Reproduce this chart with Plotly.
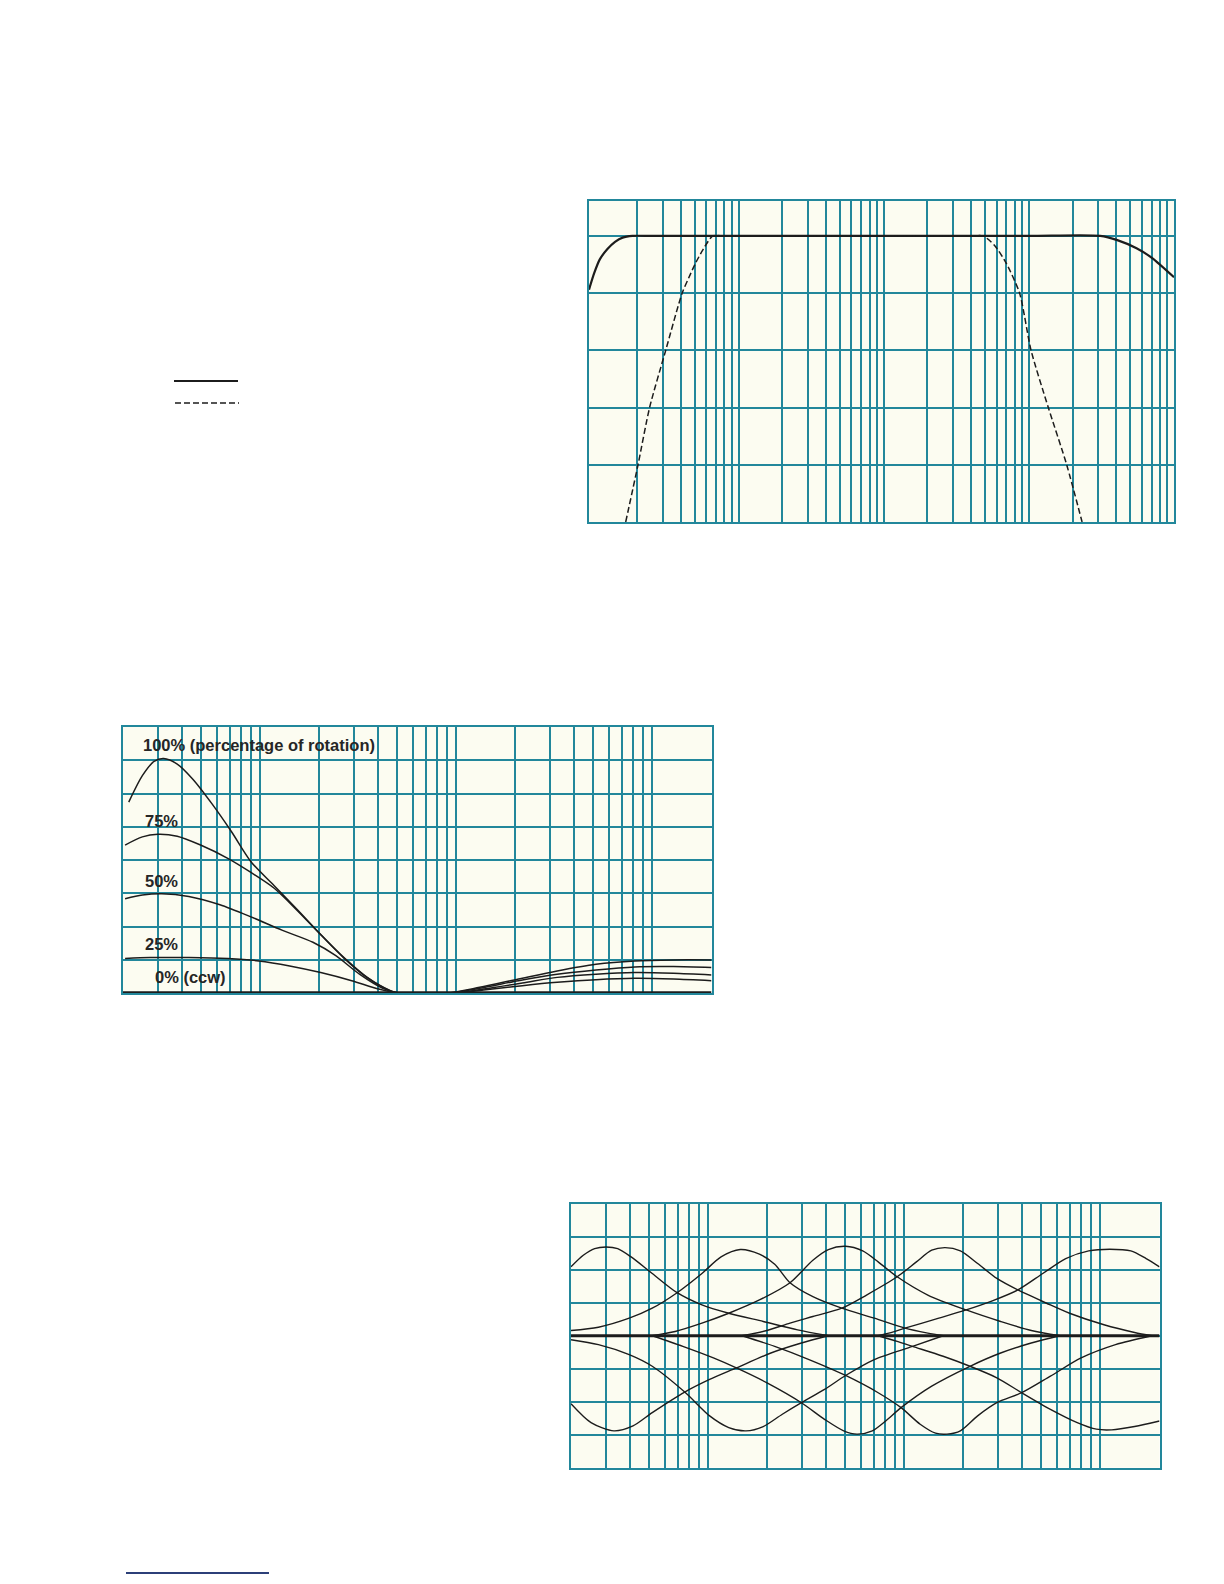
import math
import plotly.graph_objects as go

# ---------------- page geometry helpers (layout only) ----------------
W, H = 1208, 1568
OFF = 8  # default body margin of the html page


def px(x):
    return (x - OFF) / W


def py(y):
    return 1 - (y - OFF) / H


GRID = "#22879b"
INK = "#1c1c1c"
PLOT_BG = "#fcfcf1"
TEXT = "#262626"

# ---------------- chart 1 (top right): response, solid vs dashed ----------------
c1_solid_hz = [9.33, 10.1, 11.07, 12.5, 14.1, 15.9, 18.6, 25, 100, 1000, 10000, 31000, 40700, 55200, 70400, 100000]
c1_solid_db = [-9.4, -6.6, -4.1, -2.3, -1.05, -0.3, 0, 0, 0, 0, 0, 0, -0.74, -2.16, -3.83, -7.22]
c1_dash_hz = [16.7, 20.3, 24.4, 31.5, 40.9, 46.2, 50.6, 57.2, 66.6, 80, 200, 1000, 4000, 4842, 5807, 6978, 8630,
              10360, 13620, 18230, 23270]
c1_dash_db = [-50, -40, -30, -20, -10, -6.9, -4.75, -2.3, 0, 0, 0, 0, 0, 0, -1.67, -4.75, -10,
              -20, -30, -40, -50]
c1_grid_hz = [20, 30, 40, 50, 60, 70, 80, 90, 100, 200, 300, 400, 500, 600, 700, 800, 900,
              1000, 2000, 3000, 4000, 5000, 6000, 7000, 8000, 9000, 10000,
              20000, 30000, 40000, 50000, 60000, 70000, 80000, 90000]
c1_grid_db = [-50, -40, -30, -20, -10, 0]

# ---------------- chart 2 (middle left): percentage of rotation ----------------
c2_100_hz = [21.4, 25.1, 28.8, 32.2, 37.8, 45.4, 57.0, 71.5, 89.8, 118.0, 155.0, 203.7, 267.6, 351.6, 462.1, 506,
             914, 1316, 2075, 3268, 5152, 8125, 12800, 20000]
c2_100_v = [11.48, 13.07, 13.93, 14.11, 13.77, 12.86, 11.36, 9.7, 7.9, 6.45, 5.01, 3.52, 2.13, 0.94, 0.14, 0,
            0, 0.34, 0.84, 1.33, 1.73, 1.93, 1.99, 1.99]
c2_75_hz = [20.5, 25.1, 30.1, 37.8, 49.7, 68.4, 89.8, 118.0, 155.0, 203.7, 267.6, 351.6, 462.1, 506,
            914, 1316, 2075, 3268, 5152, 8125, 12800, 20000]
c2_75_v = [8.9, 9.39, 9.55, 9.43, 8.9, 8.1, 7.25, 6.3, 4.95, 3.5, 2.1, 0.92, 0.12, 0,
           0, 0.28, 0.74, 1.13, 1.39, 1.57, 1.59, 1.53]
c2_50_hz = [20.5, 25.1, 31.5, 43.3, 62.4, 89.8, 129.2, 185.9, 244.3, 321.0, 421.9, 506,
            957, 1378, 2171, 3268, 5152, 8125, 12800, 20000]
c2_50_v = [5.67, 5.89, 5.97, 5.81, 5.31, 4.58, 3.78, 3.05, 2.23, 1.13, 0.28, 0,
           0, 0.24, 0.60, 0.94, 1.13, 1.23, 1.19, 1.09]
c2_25_hz = [20.5, 27.5, 43.3, 68.4, 98.3, 141.5, 203.7, 293.1, 402.9, 506,
            1002, 1378, 2171, 3268, 5152, 8125, 12800, 20000]
c2_25_v = [2.07, 2.13, 2.13, 2.07, 1.93, 1.63, 1.23, 0.74, 0.24, 0,
           0, 0.18, 0.44, 0.64, 0.80, 0.88, 0.84, 0.74]
c2_0_hz = [20, 20000]
c2_0_v = [0, 0]
c2_grid_hz = [30, 40, 50, 60, 70, 80, 90, 100, 200, 300, 400, 500, 600, 700, 800, 900,
              1000, 2000, 3000, 4000, 5000, 6000, 7000, 8000, 9000, 10000]
c2_grid_v = [0, 2, 4, 6, 8, 10, 12, 14, 16]
c2_labels = ["100% (percentage of rotation)", "75%", "50%", "25%", "0% (ccw)"]

# ---------------- chart 3 (bottom right): five band boost / cut ----------------
c3_flat_hz = [20, 20000]
c3_flat_db = [0, 0]
c3_boost = [
    ([20, 23.1, 26.4, 30.2, 34.6, 40.5, 51.9, 69.5, 93, 127.4, 191, 286, 410],
     [6.28, 7.33, 7.94, 8.09, 7.94, 7.18, 5.67, 3.92, 2.81, 2.05, 1.30, 0.54, 0]),
    ([20, 27.6, 39.6, 51.9, 69.5, 93, 116.4, 145.8, 182.6, 218.5, 261.5, 342, 480, 703, 1007, 1318, 1578],
     [0.48, 0.78, 1.60, 2.51, 3.92, 5.67, 7.18, 7.85, 7.43, 6.52, 4.83, 3.56, 2.51, 1.60, 0.69, 0.24, 0]),
    ([51.9, 67.9, 93, 127.4, 182.6, 261.5, 342, 410, 502, 614, 736, 920, 1318, 2067, 3099, 4438, 6219],
     [0, 0.39, 1.15, 2.05, 3.26, 4.83, 6.88, 7.85, 8.15, 7.73, 6.73, 5.37, 3.71, 2.35, 1.30, 0.48, 0]),
    ([149, 199.7, 261.5, 342, 480, 642, 920, 1153, 1380, 1614, 1932, 2366, 2964, 3794, 5313, 6957, 10423, 14932, 18282],
     [0, 0.48, 1.15, 1.75, 2.51, 3.71, 5.37, 6.73, 7.79, 8.03, 7.73, 6.58, 5.22, 4.17, 2.96, 2.05, 1.00, 0.30, 0]),
    ([736, 880, 1007, 1443, 2067, 2832, 3794, 5082, 6653, 8710, 11156, 14286, 17100, 20000],
     [0, 0.36, 0.69, 1.51, 2.35, 3.20, 4.17, 5.67, 7.03, 7.73, 7.88, 7.73, 7.03, 6.28]),
]
c3_cut = [
    ([20, 25.3, 33.1, 41.4, 51.9, 76, 101.8, 139.3, 208.9, 299, 410],
     [-6.19, -7.91, -8.66, -8.21, -7.00, -5.13, -3.98, -2.93, -1.57, -0.66, 0]),
    ([20, 27.6, 39.6, 51.9, 76, 101.8, 127.4, 156, 191, 239, 299, 392, 502, 703, 1102, 1578],
     [-0.36, -0.81, -1.72, -2.78, -5.13, -7.30, -8.36, -8.66, -8.27, -7.15, -6.10, -4.89, -3.62, -2.17, -0.97, 0]),
    ([51.9, 74.3, 106.4, 139.3, 199.7, 299, 392, 491, 574, 687, 804, 963, 1380, 2162, 3099, 4438, 6219],
     [0, -0.97, -2.02, -2.93, -4.29, -6.10, -7.61, -8.66, -8.96, -8.66, -7.76, -6.55, -4.59, -2.78, -1.57, -0.66, 0]),
    ([149, 218.5, 327, 502, 736, 963, 1205, 1443, 1651, 1932, 2366, 2964, 3968, 5559, 7968, 11936, 18282],
     [0, -0.97, -2.17, -3.62, -5.19, -6.55, -8.06, -8.87, -8.96, -8.66, -7.30, -6.10, -5.19, -3.68, -2.02, -0.81, 0]),
    ([736, 920, 1102, 1578, 2162, 2964, 3968, 5559, 7614, 9528, 11406, 14932, 20000],
     [0, -0.51, -0.97, -1.87, -2.78, -3.83, -5.19, -6.70, -7.91, -8.51, -8.57, -8.27, -7.76]),
]
c3_grid_hz = c2_grid_hz
c3_grid_db = [-12, -9, -6, -3, 0, 3, 6, 9, 12]

# ---------------- figure ----------------
fig = go.Figure()


def line(x, y, xa, ya, width=1.5, dash="solid", shape="spline", smoothing=0.8):
    fig.add_trace(go.Scatter(
        x=x, y=y, xaxis=xa, yaxis=ya, mode="lines",
        line=dict(color=INK, width=width, dash=dash, shape=shape,
                  smoothing=smoothing if shape == "spline" else None),
        hoverinfo="skip", showlegend=False))


# chart 1
line(c1_solid_hz, c1_solid_db, "x", "y", width=2.2, smoothing=0.7)
line(c1_dash_hz, c1_dash_db, "x", "y", width=1.5, dash="6px,3px", smoothing=0.7)

# chart 2
for xs, ys in [(c2_100_hz, c2_100_v), (c2_75_hz, c2_75_v), (c2_50_hz, c2_50_v), (c2_25_hz, c2_25_v)]:
    line(xs, ys, "x2", "y2", width=1.5)
line(c2_0_hz, c2_0_v, "x2", "y2", width=3.5, shape="linear")

# chart 3
line(c3_flat_hz, c3_flat_db, "x3", "y3", width=3.0, shape="linear")
for xs, ys in c3_boost + c3_cut:
    line(xs, ys, "x3", "y3", width=1.4)


def xaxis(domain, lo, hi, vals, anchor):
    return dict(domain=domain, type="log", range=[math.log10(lo), math.log10(hi)],
                tickmode="array", tickvals=vals, showticklabels=False, ticks="",
                showgrid=True, gridcolor=GRID, gridwidth=2, zeroline=False,
                showline=True, linecolor=GRID, linewidth=2, mirror=True,
                anchor=anchor, fixedrange=True)


def yaxis(domain, lo, hi, vals, anchor):
    return dict(domain=domain, range=[lo, hi], tickmode="array", tickvals=vals,
                showticklabels=False, ticks="", showgrid=True, gridcolor=GRID,
                gridwidth=2, zeroline=False, showline=True, linecolor=GRID,
                linewidth=2, mirror=True, anchor=anchor, fixedrange=True)


fig.update_layout(
    width=W, height=H, autosize=False,
    margin=dict(l=0, r=0, t=0, b=0, pad=0),
    paper_bgcolor="white", plot_bgcolor=PLOT_BG,
    showlegend=False,
    xaxis=xaxis([px(589), px(1174)], 9.33, 100000, c1_grid_hz, "y"),
    yaxis=yaxis([py(522), py(201)], -50, 6.1, c1_grid_db, "x"),
    xaxis2=xaxis([px(123), px(711.5)], 20, 20000, c2_grid_hz, "y2"),
    yaxis2=yaxis([py(993), py(727)], 0, 16, c2_grid_v, "x2"),
    xaxis3=xaxis([px(571), px(1159.5)], 20, 20000, c3_grid_hz, "y3"),
    yaxis3=yaxis([py(1467.5), py(1204)], -12, 12, c3_grid_db, "x3"),
)

# legend samples for chart 1 (no text in the reference)
fig.add_shape(type="line", xref="paper", yref="paper", x0=px(174), x1=px(238), y0=py(381), y1=py(381),
              line=dict(color=INK, width=2))
fig.add_shape(type="line", xref="paper", yref="paper", x0=px(175), x1=px(239), y0=py(403), y1=py(403),
              line=dict(color=INK, width=1.6, dash="6px,3px"))
# footnote rule at the bottom left
fig.add_shape(type="line", xref="paper", yref="paper", x0=px(126), x1=px(269), y0=py(1573), y1=py(1573),
              line=dict(color="#2c3f78", width=2))

# chart 2 labels
label_pos = [(141, 745), (143, 821), (143, 881), (143, 944), (153, 977)]
for txt, (lx, ly) in zip(c2_labels, label_pos):
    fig.add_annotation(text="<b>" + txt + "</b>", xref="paper", yref="paper", x=px(lx), y=py(ly),
                       xanchor="left", yanchor="middle", showarrow=False,
                       font=dict(family="Liberation Sans, Arial, sans-serif", size=16.5, color=TEXT))

fig.write_html("out.html")
